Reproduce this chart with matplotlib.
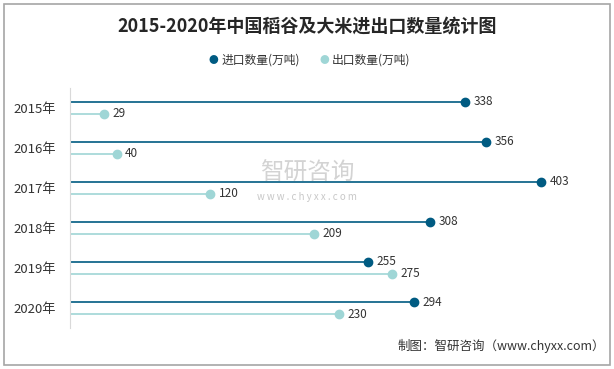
import matplotlib.pyplot as plt
from matplotlib.patches import Rectangle

plt.rcParams['font.family'] = ['Noto Sans CJK SC', 'DejaVu Sans']

years = ['2015年', '2016年', '2017年', '2018年', '2019年', '2020年']
imports = [338, 356, 403, 308, 255, 294]
exports = [29, 40, 120, 209, 275, 230]

importColor = '#005b82'
exportColor = '#9fd6d6'

fig = plt.figure(figsize=(6.14, 3.69), dpi=100)
fig.patches.append(Rectangle((0.006, 0.01), 0.988, 0.98, transform=fig.transFigure,
                             fill=False, edgecolor='#a6a6a6', linewidth=1.2))

ax = fig.add_axes([0.114, 0.111, 0.863, 0.651])

for i in range(len(years)):
    yi = i - 0.15
    ye = i + 0.15
    ax.plot([0, imports[i]], [yi, yi], color=importColor, linewidth=1.2)
    ax.plot(imports[i], yi, 'o', color=importColor, markersize=6)
    ax.annotate(str(imports[i]), (imports[i], yi), xytext=(6, 0), textcoords='offset points',
                va='center', ha='left', fontsize=8.5, color='#333333')
    ax.plot([0, exports[i]], [ye, ye], color=exportColor, linewidth=1.2)
    ax.plot(exports[i], ye, 'o', color=exportColor, markersize=6)
    ax.annotate(str(exports[i]), (exports[i], ye), xytext=(6, 0), textcoords='offset points',
                va='center', ha='left', fontsize=8.5, color='#333333')

ax.set_xlim(0, 453)
ax.set_ylim(5.5, -0.5)
ax.set_yticks(range(len(years)))
ax.set_yticklabels(years, fontsize=9.5, color='#333333')
ax.tick_params(axis='y', length=0, pad=10)
ax.set_xticks([])
for side in ['top', 'right', 'bottom']:
    ax.spines[side].set_visible(False)
ax.spines['left'].set_color('#d9d9d9')

# legend
fig.text(0.348, 0.838, '●', color=importColor, fontsize=7, ha='center', va='center')
fig.text(0.360, 0.838, '进口数量(万吨)', color='#333333', fontsize=8.5, ha='left', va='center')
fig.text(0.529, 0.838, '●', color=exportColor, fontsize=7, ha='center', va='center')
fig.text(0.541, 0.838, '出口数量(万吨)', color='#333333', fontsize=8.5, ha='left', va='center')

fig.text(0.5, 0.928, '2015-2020年中国稻谷及大米进出口数量统计图', fontsize=13, fontweight='bold',
         color='#262626', ha='center', va='center')

# watermark
fig.text(0.5, 0.53, '智研咨询', fontsize=17, color='#c8c8c8', alpha=0.8, ha='center', va='center')
fig.text(0.5, 0.465, 'w w w . c h y x x . c o m', fontsize=7, color='#c8c8c8', ha='center', va='center')

fig.text(0.985, 0.063, '制图：智研咨询（www.chyxx.com）', fontsize=9, color='#333333',
         ha='right', va='center')

fig.savefig('out.png', dpi=100)
